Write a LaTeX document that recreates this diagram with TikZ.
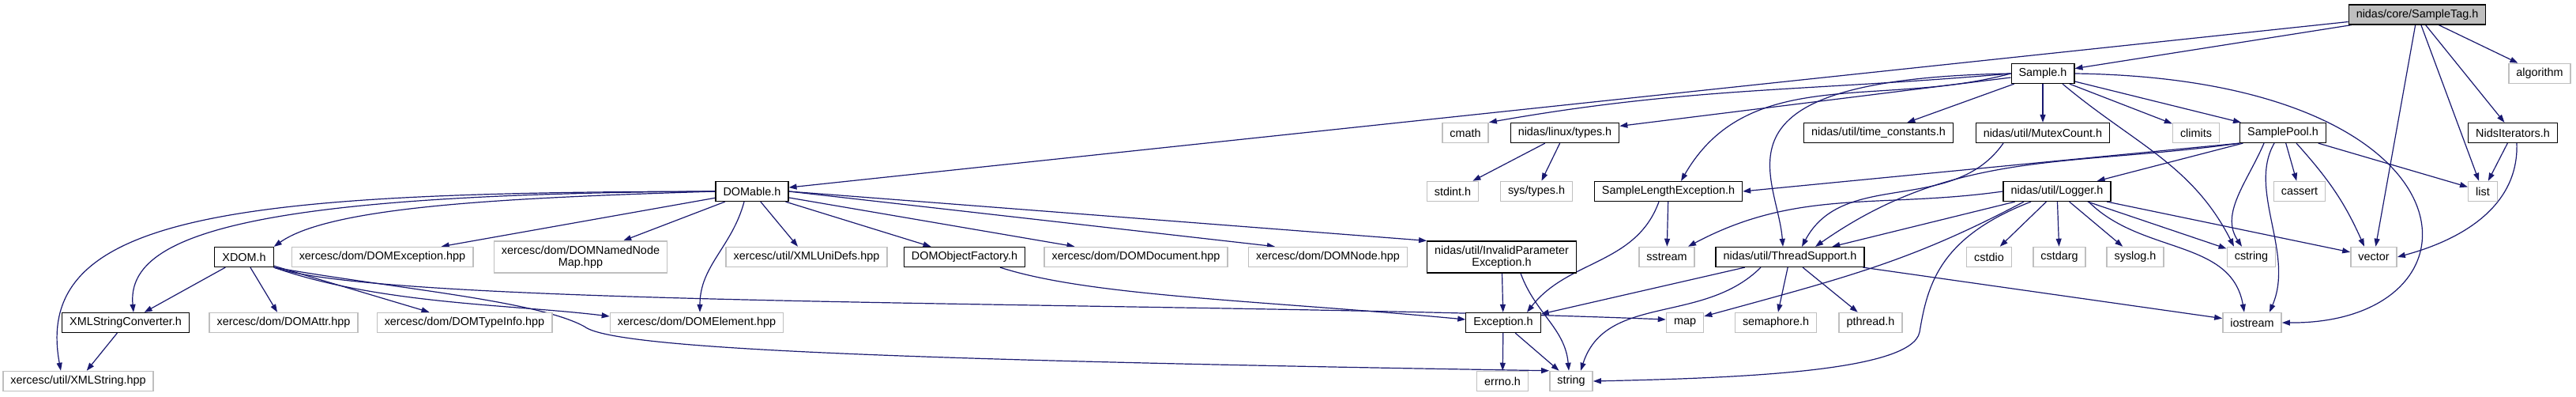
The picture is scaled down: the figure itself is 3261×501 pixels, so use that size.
\documentclass[tikz,border=0pt]{standalone}
\usepackage{fontspec}
\setmainfont{Liberation Sans}
\usepackage{tikz}
\usetikzlibrary{arrows.meta,backgrounds}
\definecolor{edgeblue}{HTML}{191970}
\definecolor{extgray}{HTML}{BFBFBF}
\definecolor{tagfill}{HTML}{BFBFBF}

\begin{document}
\begin{tikzpicture}[x=1pt, y=1pt,
    >={Triangle[length=10pt,width=7pt]},
    hdr/.style={draw=black, line width=1.2pt, fill=white, minimum height=25pt,
        inner xsep=9.5pt, inner ysep=0pt, align=center,
        font=\fontsize{14.4}{15}\selectfont},
    sys/.style={hdr, draw=extgray, line width=1.5pt},
    dep/.style={->, draw=edgeblue, line width=1.2pt}]

    \useasboundingbox (0,0) rectangle (3261,-501);

    % nodi
    \node[hdr, fill=tagfill] (tag) at (3060,-18.5) {nidas/core/SampleTag.h};

    \node[hdr] (smp) at (2586,-93) {Sample.h};
    \node[sys] (alg) at (3215,-93) {algorithm};

    \node[sys] (cm) at (1855,-168) {cmath};
    \node[hdr] (lt) at (1981,-168) {nidas/linux/types.h};
    \node[hdr] (tc) at (2378,-168) {nidas/util/time\_constants.h};
    \node[hdr] (mc) at (2586,-168) {nidas/util/MutexCount.h};
    \node[sys] (cl) at (2780,-168) {climits};
    \node[hdr] (sp) at (2890,-168) {SamplePool.h};
    \node[hdr] (ni) at (3181,-168) {NidsIterators.h};

    \node[hdr] (dom) at (952,-242) {DOMable.h};
    \node[sys] (si) at (1839,-242) {stdint.h};
    \node[sys] (sty) at (1945,-242) {sys/types.h};
    \node[hdr] (sle) at (2112,-242) {SampleLengthException.h};
    \node[hdr] (lg) at (2604,-242) {nidas/util/Logger.h};
    \node[sys] (ca) at (2911,-242) {cassert};
    \node[sys] (li) at (3143,-242) {list};

    \node[hdr] (xd) at (309,-325) {XDOM.h};
    \node[sys] (dex) at (484,-325) {xercesc/dom/DOMException.hpp};
    \node[sys, minimum height=40pt] (dnm) at (735,-325) {xercesc/dom/DOMNamedNode\\Map.hpp};
    \node[sys] (xud) at (1021,-325) {xercesc/util/XMLUniDefs.hpp};
    \node[hdr] (dof) at (1221,-325) {DOMObjectFactory.h};
    \node[sys] (ddoc) at (1438,-325) {xercesc/dom/DOMDocument.hpp};
    \node[sys] (dnd) at (1681,-325) {xercesc/dom/DOMNode.hpp};
    \node[hdr, minimum height=40pt] (ipe) at (1901,-325) {nidas/util/InvalidParameter\\Exception.h};
    \node[sys] (ss) at (2110,-325) {sstream};
    \node[hdr] (ts) at (2266,-325) {nidas/util/ThreadSupport.h};
    \node[sys] (cio) at (2518,-325) {cstdio};
    \node[sys] (carg) at (2607,-325) {cstdarg};
    \node[sys] (slog) at (2703,-325) {syslog.h};
    \node[sys] (cs) at (2850,-325) {cstring};
    \node[sys] (vec) at (3005,-325) {vector};

    \node[hdr] (xsc) at (159,-408) {XMLStringConverter.h};
    \node[sys] (dat) at (359,-408) {xercesc/dom/DOMAttr.hpp};
    \node[sys] (dti) at (588,-408) {xercesc/dom/DOMTypeInfo.hpp};
    \node[sys] (del) at (882,-408) {xercesc/dom/DOMElement.hpp};
    \node[hdr] (exc) at (1903,-408) {Exception.h};
    \node[sys] (mp) at (2133,-408) {map};
    \node[sys] (sem) at (2248,-408) {semaphore.h};
    \node[sys] (pth) at (2368,-408) {pthread.h};
    \node[sys] (ios) at (2851,-408) {iostream};

    \node[sys] (xs) at (99,-482) {xercesc/util/XMLString.hpp};
    \node[sys] (err) at (1902,-482) {errno.h};
    \node[sys] (str) at (1989,-482) {string};

    \begin{pgfonlayer}{background}
    \fill[white] (0,0) rectangle (3261,-501);

    % archi da SampleTag.h e Sample.h
    \draw[dep] (tag) -- (smp);
    \draw[dep] (tag) -- (dom);
    \draw[dep] (tag) -- (alg);
    \draw[dep] (tag) -- (ni);
    \draw[dep] (tag) -- (li);
    \draw[dep] (tag) -- (vec);

    \draw[dep] (smp.west) to[out=185,in=10] (cm.north east);
    \draw[dep] (smp) -- (lt);
    \draw[dep] (smp) -- (tc);
    \draw[dep] (smp) -- (mc);
    \draw[dep] (smp) -- (cl);
    \draw[dep] (smp) -- (sp);
    \draw[dep] (smp.west) to[out=195,in=60] ([xshift=16pt]sle.north);
    \draw[dep] (smp.west) .. controls (2150,-100) and (2250,-220) .. ([xshift=-9pt]ts.north);
    \draw[dep] ([xshift=25pt]smp.south) to[out=-40,in=117] ([xshift=-22pt]cs.north);
    \draw[dep] (smp.east) .. controls (3150,-100) and (3160,-410) .. (ios.east);

    % SamplePool.h, NidsIterators.h, types.h
    \draw[dep] (sp.south west) -- (sle.east);
    \draw[dep] (sp.south west) to[out=188,in=35] ([xshift=32pt]ts.north);
    \draw[dep] (sp) -- (lg);
    \draw[dep] ([xshift=-24pt]sp.south) .. controls (2845,-230) and (2810,-270) .. ([xshift=-12pt]cs.north);
    \draw[dep] ([xshift=-11pt]sp.south) .. controls (2845,-240) and (2905,-320) .. ([xshift=22pt]ios.north);
    \draw[dep] (sp) -- (ca);
    \draw[dep] ([xshift=17pt]sp.south) to[out=-48,in=114] ([xshift=-12pt]vec.north);
    \draw[dep] (sp) -- (li);

    \draw[dep] (ni) -- (li);
    \draw[dep] ([xshift=5pt]ni.south) to[out=-88,in=15] (vec.east);

    \draw[dep] (lt) -- (si);
    \draw[dep] (lt) -- (sty);

    \draw[dep] ([xshift=-50pt]mc.south) to[out=235,in=62] ([xshift=15pt]ts.north);

    % Logger.h
    \draw[dep] (lg.west) to[out=188,in=28] ([xshift=27pt]ss.north);
    \draw[dep] (lg) -- (ts);
    \draw[dep] ([xshift=-42pt]lg.south) .. controls (2420,-330) and (2340,-350) .. ([yshift=8pt]mp.east);
    \draw[dep] ([xshift=-33pt]lg.south) .. controls (2455,-300) and (2440,-360) .. (2430,-420)
        .. controls (2420,-470) and (2200,-478) .. (str.east);
    \draw[dep] (lg) -- (cio);
    \draw[dep] (lg) -- (carg);
    \draw[dep] (lg) -- (slog);
    \draw[dep] (lg) -- (cs);
    \draw[dep] (lg) -- (vec);
    \draw[dep] ([xshift=40pt]lg.south) to[out=-45,in=100] ([xshift=-10pt]ios.north);

    % ThreadSupport.h, eccezioni
    \draw[dep] (ts) -- (exc);
    \draw[dep] ([xshift=-37pt]ts.south) to[out=225,in=72] ([xshift=12pt]str.north);
    \draw[dep] (ts) -- (sem);
    \draw[dep] (ts) -- (pth);
    \draw[dep] (ts) -- (ios);

    \draw[dep] (sle) -- (ss);
    \draw[dep] ([xshift=-12pt]sle.south) to[out=250,in=52] ([xshift=30pt]exc.north);
    \draw[dep] (ipe) -- (exc);
    \draw[dep] ([xshift=24pt]ipe.south) to[out=-70,in=95] ([xshift=-3pt]str.north);
    \draw[dep] (exc) -- (err);
    \draw[dep] (exc) -- (str);
    \draw[dep] ([xshift=45pt]dof.south) .. controls (1380,-375) and (1600,-380) .. ([yshift=4pt]exc.west);

    % DOMable.h
    \draw[dep] (dom.west) .. controls (650,-250) and (420,-260) .. (xd.north east);
    \draw[dep] (dom.west) .. controls (300,-245) and (160,-300) .. ([xshift=10pt]xsc.north);
    \draw[dep] (dom.west) .. controls (300,-243) and (40,-270) .. ([xshift=-22pt]xs.north);
    \draw[dep] (dom) -- (dex);
    \draw[dep] (dom) -- (dnm);
    \draw[dep] (dom) -- (xud);
    \draw[dep] ([xshift=-10pt]dom.south) to[out=255,in=90] ([xshift=4pt]del.north);
    \draw[dep] (dom) -- (dof);
    \draw[dep] (dom) -- (ddoc);
    \draw[dep] (dom.east) -- ([xshift=-67pt]dnd.north);
    \draw[dep] (dom.east) -- (ipe.north west);

    % XDOM.h
    \draw[dep] (xd) -- (xsc);
    \draw[dep] (xd) -- (dat);
    \draw[dep] (xd) -- (dti);
    \draw[dep] (xd.south east) .. controls (480,-385) and (650,-385) .. ([yshift=8pt]del.west);
    \draw[dep] (xd.south east) .. controls (500,-390) and (1500,-380) .. ([yshift=4pt]mp.west);
    \draw[dep] (xd.south east) .. controls (500,-365) and (680,-380) .. (740,-413)
        .. controls (775,-440) and (1100,-455) .. (str.north west);
    \draw[dep] (xsc) -- (xs);
    \end{pgfonlayer}

\end{tikzpicture}
\end{document}
